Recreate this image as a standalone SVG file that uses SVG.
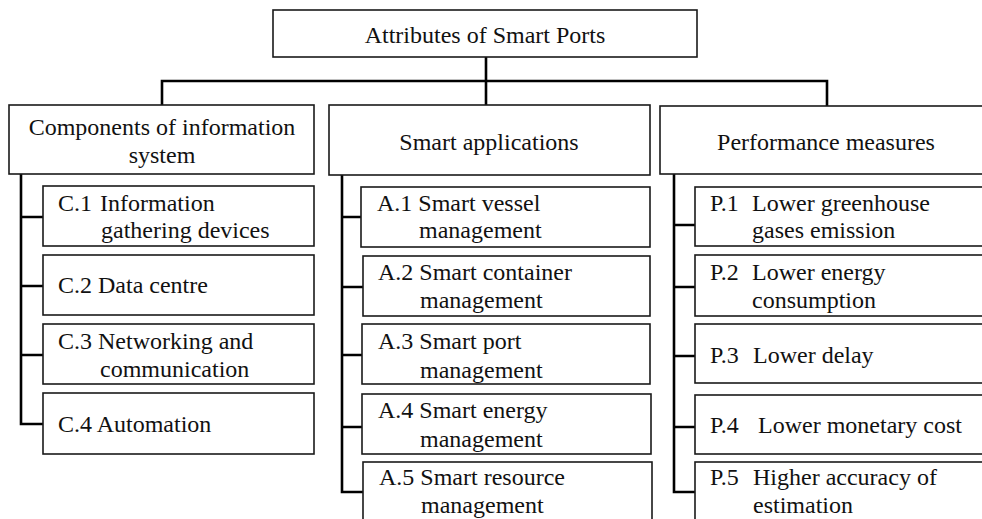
<svg xmlns="http://www.w3.org/2000/svg" width="982" height="519" viewBox="0 0 982 519">
<style>
.box{fill:#fff;stroke:#1a1a1a;stroke-width:1.6}
.con{fill:none;stroke:#000;stroke-width:2.6}
.t text{font-size:24px;fill:#111}
.c{text-anchor:middle}
</style>
<rect width="982" height="519" fill="#fff"/>
<g id="connectors">
<path class="con" d="M486 57V105M162 105V81H827V106"/>
<path class="con" d="M21 174V424H43M21 217H43M21 286H43M21 355H43"/>
<path class="con" d="M342 175V492H363M342 217H361M342 287H363M342 355H362M342 427H362"/>
<path class="con" d="M674 174V492H695M674 225H695M674 287H695M674 356H695M674 427H695"/>
</g>
<g class="t" font-family="'Liberation Serif', 'DejaVu Serif', serif">
<g id="root"><rect class="box" x="273" y="10" width="424" height="47"/><text class="c" x="485" y="43">Attributes of Smart Ports</text></g>
<g id="components"><rect class="box" x="9" y="105" width="305" height="69"/><text class="c" x="162" y="135">Components of information</text><text class="c" x="162" y="163">system</text></g>
<g id="applications"><rect class="box" x="329" y="105" width="321" height="70"/><text class="c" x="489" y="150">Smart applications</text></g>
<g id="performance"><rect class="box" x="660" y="106" width="340" height="68"/><text class="c" x="826" y="150">Performance measures</text></g>
<g id="c1"><rect class="box" x="43" y="186" width="271" height="60"/><text x="58" y="211">C.1 <tspan x="100">Information</tspan></text><text x="101" y="238">gathering devices</text></g>
<g id="c2"><rect class="box" x="43" y="255" width="271" height="60"/><text x="58" y="293">C.2 Data centre</text></g>
<g id="c3"><rect class="box" x="43" y="324" width="271" height="60"/><text x="58" y="349">C.3 Networking and</text><text x="100" y="377">communication</text></g>
<g id="c4"><rect class="box" x="43" y="393" width="271" height="61"/><text x="58" y="432">C.4 Automation</text></g>
<g id="a1"><rect class="box" x="361" y="187" width="289" height="60"/><text x="377" y="211">A.1 Smart vessel</text><text x="419" y="238">management</text></g>
<g id="a2"><rect class="box" x="363" y="256" width="287" height="60"/><text x="378" y="280">A.2 Smart container</text><text x="420" y="308">management</text></g>
<g id="a3"><rect class="box" x="362" y="324" width="288" height="60"/><text x="378" y="349">A.3 Smart port</text><text x="420" y="378">management</text></g>
<g id="a4"><rect class="box" x="362" y="394" width="289" height="60"/><text x="378" y="418">A.4 Smart energy</text><text x="420" y="447">management</text></g>
<g id="a5"><rect class="box" x="363" y="462" width="289" height="70"/><text x="379" y="485">A.5 Smart resource</text><text x="421" y="513">management</text></g>
<g id="p1"><rect class="box" x="695" y="187" width="300" height="59"/><text x="710" y="211">P.1</text><text x="752" y="211">Lower greenhouse</text><text x="752" y="238">gases emission</text></g>
<g id="p2"><rect class="box" x="695" y="255" width="300" height="61"/><text x="710" y="280">P.2</text><text x="752" y="280">Lower energy</text><text x="752" y="308">consumption</text></g>
<g id="p3"><rect class="box" x="695" y="324" width="300" height="59"/><text x="710" y="363">P.3</text><text x="753" y="363">Lower delay</text></g>
<g id="p4"><rect class="box" x="695" y="395" width="300" height="59"/><text x="710" y="433">P.4</text><text x="758" y="433">Lower monetary cost</text></g>
<g id="p5"><rect class="box" x="695" y="462" width="300" height="70"/><text x="710" y="485">P.5</text><text x="753" y="485">Higher accuracy of</text><text x="753" y="513">estimation</text></g>
</g>
</svg>
